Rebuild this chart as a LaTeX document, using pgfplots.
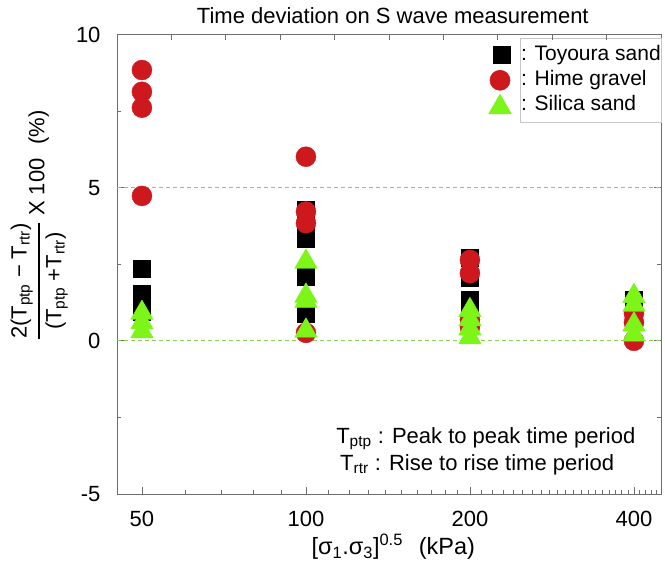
\documentclass[border=0pt]{standalone}
\usepackage{fontspec}
\setmainfont{Liberation Sans}
\usepackage{amsmath}
\usepackage{pgfplots}
\pgfplotsset{compat=1.18}
\definecolor{hred}{RGB}{205,25,30}
\definecolor{sgreen}{RGB}{125,245,25}
\definecolor{dgreen}{RGB}{140,205,85}
\definecolor{axgray}{RGB}{110,110,110}
\pgfplotsset{
  legA/.style={legend image code/.code={\draw[##1, overlay] plot coordinates {(-19pt,0pt)};}},
  legB/.style={legend image code/.code={\draw[##1, overlay] plot coordinates {(-21pt,0pt)};}},
  legC/.style={legend image code/.code={\draw[##1, overlay] plot coordinates {(-21pt,-2pt)};}},
}

\begin{document}
\fontsize{22}{26}\selectfont
\begin{tikzpicture}
\begin{axis}[name=ax, scale only axis, width=544pt, height=459.5pt,
 xmode=log, xmin=45, xmax=448.5, ymin=-5, ymax=10,
 xtick={50,100,200,400}, xticklabels={50,100,200,400},
 minor xtick={60,70,80,90,110,120,130,140,150,160,170,180,190,210,220,230,240,250,260,270,280,290,300,310,320,330,340,350,360,370,380,390,410,420,430,440},
 ytick={-5,0,5,10}, yticklabels={-5,0,5,10}, minor y tick num=1,
 xtick pos=left, ytick pos=both,
 tick align=inside, major tick length=7pt, minor tick length=4pt,
 axis line style={axgray, line width=0.8pt},
 tick style={axgray, line width=0.8pt},
 tick label style={font=\fontsize{22}{26}\selectfont},
 xticklabel style={yshift=-10pt},
 yticklabel style={xshift=-9pt},
 title={Time deviation on S wave measurement},
 title style={at={(axis description cs:0.507,1)}, anchor=base, yshift=4.5pt, font=\fontsize{22}{26}\selectfont},
 xlabel={[σ\textsubscript{1}.σ\textsubscript{3}]\textsuperscript{0.5}\hspace{16pt}(kPa)},
 xlabel style={at={(axis description cs:0.508,-0.1325)}, anchor=base, font=\fontsize{23.5}{27}\selectfont},
 ylabel={$\displaystyle{\text{2(T\textsubscript{ptp} − T\textsubscript{rtr})}\above 1.8pt\text{(T\textsubscript{ptp} +T\textsubscript{rtr})}}$ X 100\hspace{14pt}(\%)},
 ylabel style={at={(axis description cs:-0.143,0.585)}, anchor=center, font=\fontsize{22}{26}\selectfont},
 legend style={at={(1,1)}, anchor=north east, xshift=1pt, yshift=-3.5pt,
   draw=gray!45, line width=0.6pt, inner xsep=1pt, inner ysep=6.5pt,
   nodes={inner sep=0pt, text height=16pt, text depth=5pt},
   row sep=4pt, font=\fontsize{21}{25}\selectfont},
 legend cell align=left,
 clip=false,
]
\addplot[only marks, mark=square*, mark size=8.5pt, mark options={fill=black, draw=black}, legA]
 coordinates {(50,2.37) (50,1.55) (50,1.2) (50,0.95)
   (100,4.27) (100,3.85) (100,3.35) (100,2.09) (100,0.88)
   (200,2.71) (200,2.05) (200,1.34) (200,0.95)
   (400,1.34) (400,1.08) (400,0.85)};
\addlegendentry{: Toyoura sand}
\addplot[only marks, mark=*, mark size=10pt, mark options={fill=hred, draw=hred}, legB]
 coordinates {(50,8.84) (50,8.13) (50,7.61) (50,4.73)
   (100,6.01) (100,4.22) (100,3.84) (100,0.26)
   (200,2.64) (200,2.21) (200,0.69) (200,0.45)
   (400,0.9) (400,0.6) (400,0.0)};
\addlegendentry{: Hime gravel}
\addplot[only marks, mark=triangle*, mark size=13pt, mark options={fill=sgreen, draw=sgreen}, legC]
 coordinates {(50,0.91) (50,0.6) (50,0.31)
   (100,2.58) (100,1.47) (100,1.3) (100,0.33)
   (200,1.0) (200,0.7) (200,0.4) (200,0.11)
   (400,1.46) (400,1.17) (400,0.53) (400,0.2)};
\addlegendentry{: Silica sand}
\addplot[dgreen, dash pattern=on 4pt off 3pt, line width=1pt, forget plot] coordinates {(45,0) (448.5,0)};
\addplot[dgreen, dash pattern=on 4pt off 3pt, line width=1pt, forget plot] coordinates {(45,5) (448.5,5)};
\node[anchor=base] at (axis description cs:0.678,0.110) {T\textsubscript{ptp} : Peak to peak time period};
\node[anchor=base] at (axis description cs:0.662,0.052) {T\textsubscript{rtr} : Rise to rise time period};
\end{axis}
\begin{axis}[at={(ax.south west)}, anchor=south west, scale only axis, width=544pt, height=459.5pt,
 xmin=0, xmax=1, ymin=0, ymax=1, axis x line*=top, hide y axis,
 xtick={0.1,0.2,0.3,0.4,0.5,0.6,0.7,0.8,0.9}, xticklabels={},
 tick align=inside, major tick length=6pt,
 axis line style={draw=none}, tick style={axgray, line width=0.8pt}]
\end{axis}
\pgfresetboundingbox
\path ([shift={(-117pt,-76pt)}]ax.south west) rectangle ([shift={(4pt,34.5pt)}]ax.north east);
\end{tikzpicture}
\end{document}
